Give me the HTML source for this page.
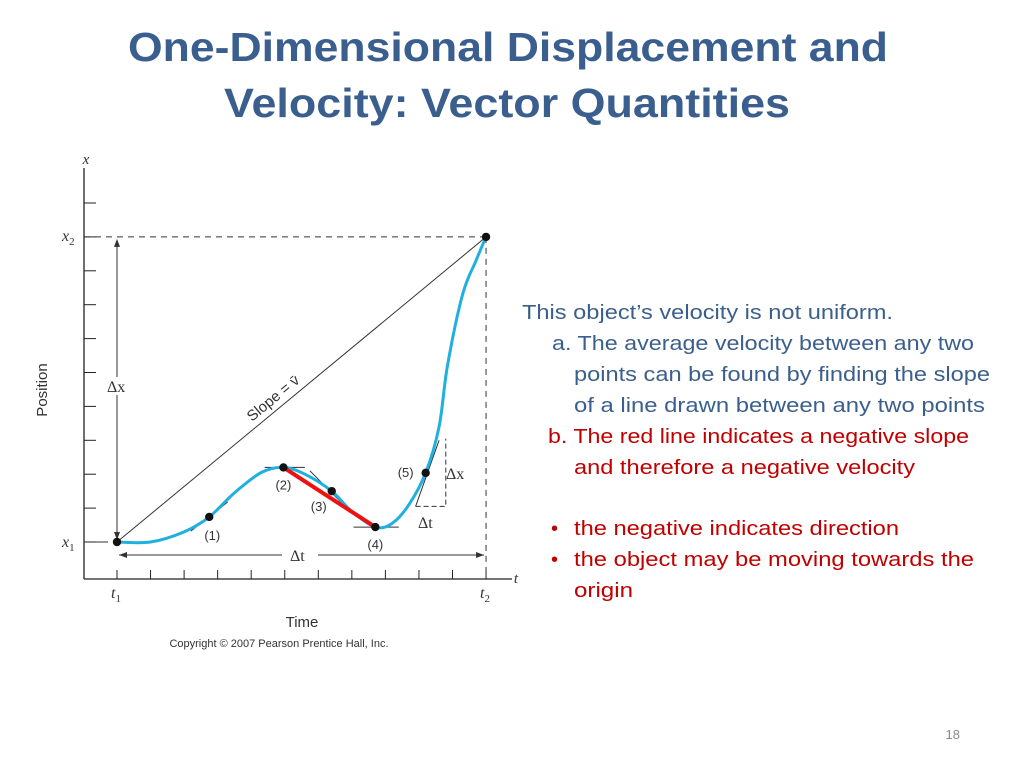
<!DOCTYPE html>
<html><head><meta charset="utf-8"><style>
html,body{margin:0;padding:0;background:#fff;}
svg{display:block;}
</style></head><body>
<svg id="slide" width="1024" height="768" viewBox="0 0 1024 768" xmlns="http://www.w3.org/2000/svg">
<g font-family="Liberation Sans, sans-serif" font-weight="bold" font-size="41" fill="#3a5f8e" text-anchor="middle">
<text x="508" y="61" textLength="760" lengthAdjust="spacingAndGlyphs">One-Dimensional Displacement and</text>
<text x="507" y="117" textLength="566" lengthAdjust="spacingAndGlyphs">Velocity: Vector Quantities</text>
</g>
<g font-family="Liberation Sans, sans-serif" font-size="20">
<text x="522" y="319" fill="#3b5f8c" textLength="371" lengthAdjust="spacingAndGlyphs">This object’s velocity is not uniform.</text>
<text x="552" y="350" fill="#3b5f8c" textLength="422" lengthAdjust="spacingAndGlyphs">a. The average velocity between any two</text>
<text x="574" y="381" fill="#3b5f8c" textLength="416" lengthAdjust="spacingAndGlyphs">points can be found by finding the slope</text>
<text x="574" y="412" fill="#3b5f8c" textLength="411" lengthAdjust="spacingAndGlyphs">of a line drawn between any two points</text>
<text x="548" y="443" fill="#c00000" textLength="421" lengthAdjust="spacingAndGlyphs">b. The red line indicates a negative slope</text>
<text x="574" y="474" fill="#c00000" textLength="341" lengthAdjust="spacingAndGlyphs">and therefore a negative velocity</text>
<text x="551" y="535" fill="#c00000">•</text>
<text x="574" y="535" fill="#c00000" textLength="325" lengthAdjust="spacingAndGlyphs">the negative indicates direction</text>
<text x="551" y="566" fill="#c00000">•</text>
<text x="574" y="566" fill="#c00000" textLength="400" lengthAdjust="spacingAndGlyphs">the object may be moving towards the</text>
<text x="574" y="597" fill="#c00000" textLength="59" lengthAdjust="spacingAndGlyphs">origin</text>
</g>
<text x="960" y="739" font-family="Liberation Sans, sans-serif" font-size="13" fill="#8a8a8a" text-anchor="end">18</text>
<g id="chart"></g>
</svg>
<script>
const tValues = [0, 1, 2, 2.75, 3.5, 4.3, 4.96, 5.6, 6.4, 7.0, 7.7, 8.2, 8.7, 9.2, 9.6, 9.85, 10.3, 10.7, 11];
const xValues = [0, 0, 0.3, 0.74, 1.45, 2.05, 2.2, 2.0, 1.5, 0.9, 0.44, 0.55, 1.1, 2.04, 3.4, 5.2, 7.3, 8.3, 9];
const markedT = [2.75, 4.96, 6.4, 7.7, 9.2];
const markedX = [0.74, 2.2, 1.5, 0.44, 2.04];
const markLabels = ["(1)", "(2)", "(3)", "(4)", "(5)"];
const endT = [0, 11];
const endX = [0, 9];

const NS = "http://www.w3.org/2000/svg";
const g = document.getElementById('chart');
const sx = t => 117 + t * 33.55;
const sy = x => 542 - x * 33.9;
function mk(tag, attrs, parent) {
  const e = document.createElementNS(NS, tag);
  for (const k in attrs) e.setAttribute(k, attrs[k]);
  (parent || g).appendChild(e);
  return e;
}
const F = "Liberation Sans, sans-serif";
const FS = "Liberation Serif, serif";

let e = mk('line', {x1: 84, y1: 168, x2: 84, y2: 579, stroke: '#222', 'stroke-width': 1.3});


e = mk('line', {x1: 84, y1: 579, x2: 512, y2: 579, stroke: '#222', 'stroke-width': 1.3});


for (let i = 0; i <= 10; i++) {
  const y = sy(i);
  e = mk('line', {x1: 84, y1: y, x2: 96, y2: y, stroke: '#222', 'stroke-width': 1});
  
  
}
for (let i = 0; i <= 11; i++) {
  const x = sx(i);
  e = mk('line', {x1: x, y1: 570, x2: x, y2: 579, stroke: '#222', 'stroke-width': 1});
  
  
}
e = mk('line', {x1: 84, y1: sy(9), x2: sx(11), y2: sy(9), stroke: '#333', 'stroke-width': 1, 'stroke-dasharray': '6,5'});


e = mk('line', {x1: sx(11), y1: sy(9), x2: sx(11), y2: 579, stroke: '#333', 'stroke-width': 1, 'stroke-dasharray': '6,5'});


e = mk('line', {x1: 96, y1: sy(0), x2: 108, y2: sy(0), stroke: '#333', 'stroke-width': 1});


e = mk('line', {x1: sx(0), y1: sy(9) + 4, x2: sx(0), y2: sy(0) - 4, stroke: '#333', 'stroke-width': 1});


e = mk('path', {d: `M${sx(0)-3},${sy(9)+10} L${sx(0)},${sy(9)+2} L${sx(0)+3},${sy(9)+10} Z M${sx(0)-3},${sy(0)-10} L${sx(0)},${sy(0)-2} L${sx(0)+3},${sy(0)-10} Z`, fill: '#333'});


e = mk('rect', {x: 104, y: 377, width: 26, height: 18, fill: '#fff'});
e = mk('text', {x: 107, y: 392, 'font-family': FS, 'font-size': 16, fill: '#333'}); e.textContent = 'Δx';


const aty = 555;
e = mk('line', {x1: sx(0) + 2, y1: aty, x2: 282, y2: aty, stroke: '#333', 'stroke-width': 1});


e = mk('line', {x1: 318, y1: aty, x2: sx(11) - 2, y2: aty, stroke: '#333', 'stroke-width': 1});


e = mk('path', {d: `M${sx(0)+10},${aty-3} L${sx(0)+2},${aty} L${sx(0)+10},${aty+3} Z M${sx(11)-10},${aty-3} L${sx(11)-2},${aty} L${sx(11)-10},${aty+3} Z`, fill: '#333'});


e = mk('text', {x: 290, y: 561, 'font-family': FS, 'font-size': 16, fill: '#333'}); e.textContent = 'Δt';


e = mk('line', {x1: sx(endT[0]), y1: sy(endX[0]), x2: sx(endT[1]), y2: sy(endX[1]), stroke: '#333', 'stroke-width': 1});


e = mk('text', {x: 0, y: 0, 'font-family': F, 'font-size': 15, fill: '#333', transform: `translate(252,422) rotate(-39.5)`}); e.textContent = 'Slope = v̄';


const tangents = [[2.2, 0.32, 3.3, 1.18], [4.4, 2.2, 5.6, 2.2], [5.75, 2.1, 6.9, 0.95], [7.05, 0.44, 8.4, 0.44], [8.9, 1.05, 9.6, 3.0]];
tangents.forEach(tg => {
  e = mk('line', {x1: sx(tg[0]), y1: sy(tg[1]), x2: sx(tg[2]), y2: sy(tg[3]), stroke: '#333', 'stroke-width': 1});
  
  
});
e = mk('path', {d: `M${sx(8.9)},${sy(1.05)} L${sx(9.8)},${sy(1.05)} L${sx(9.8)},${sy(3.05)}`, fill: 'none', stroke: '#333', 'stroke-width': 1, 'stroke-dasharray': '5,3'});


e = mk('text', {x: 446, y: 479, 'font-family': FS, 'font-size': 16, fill: '#333'}); e.textContent = 'Δx';


e = mk('text', {x: 418, y: 528, 'font-family': FS, 'font-size': 16, fill: '#333'}); e.textContent = 'Δt';



const P = tValues.map((t, i) => [sx(t), sy(xValues[i])]);
let d = `M${P[0][0]},${P[0][1]}`;
for (let i = 0; i < P.length - 1; i++) {
  const p0 = P[Math.max(0, i - 1)], p1 = P[i], p2 = P[i + 1], p3 = P[Math.min(P.length - 1, i + 2)];
  const c1 = [p1[0] + (p2[0] - p0[0]) / 6, p1[1] + (p2[1] - p0[1]) / 6];
  const c2 = [p2[0] - (p3[0] - p1[0]) / 6, p2[1] - (p3[1] - p1[1]) / 6];
  d += ` C${c1[0]},${c1[1]} ${c2[0]},${c2[1]} ${p2[0]},${p2[1]}`;
}
e = mk('path', {d: d, fill: 'none', stroke: '#1fb0e0', 'stroke-width': 3});


e = mk('line', {x1: sx(markedT[1]), y1: sy(markedX[1]), x2: sx(markedT[3]), y2: sy(markedX[3]), stroke: '#ee1111', 'stroke-width': 4});


const labelOff = [[3, 23], [0, 22], [-13, 20], [0, 22], [-20, 4]];
markedT.forEach((t, i) => {
  e = mk('circle', {cx: sx(t), cy: sy(markedX[i]), r: 4.2, fill: '#111'});
  
  
  e = mk('text', {x: sx(t) + labelOff[i][0], y: sy(markedX[i]) + labelOff[i][1], 'font-family': F, 'font-size': 13, fill: '#333', 'text-anchor': 'middle'});
  e.textContent = markLabels[i];
  
  
});
endT.forEach((t, i) => {
  e = mk('circle', {cx: sx(t), cy: sy(endX[i]), r: 4.2, fill: '#111'});
  
  
});
const labels = [
  ['x', 86, 164, FS, 15, 'italic', 'y-axis-symbol'],
  ['t', 516, 583, FS, 15, 'italic', 't-axis-symbol'],
  ['Time', 302, 627, F, 15, 'normal', 'x-axis-title'],
  ['Copyright © 2007 Pearson Prentice Hall, Inc.', 279, 647, F, 11, 'normal', 'copyright'],
];
labels.forEach(L => {
  e = mk('text', {x: L[1], y: L[2], 'font-family': L[3], 'font-size': L[4], 'font-style': L[5], fill: '#333', 'text-anchor': 'middle'});
  e.textContent = L[0];
  
  
});
e = mk('text', {x: 0, y: 0, 'font-family': F, 'font-size': 15, fill: '#333', 'text-anchor': 'middle', transform: 'translate(47,390) rotate(-90)'}); e.textContent = 'Position';


function subLabel(main, sub, x, y, name) {
  const t = mk('text', {x: x, y: y, 'font-family': FS, 'font-size': 16, 'font-style': 'italic', fill: '#333'});
  
  
  t.appendChild(document.createTextNode(main));
  const s = mk('tspan', {dy: 4, 'font-size': 11, 'font-style': 'normal'}, t);
  s.textContent = sub;
}
subLabel('x', '2', 62, 241, 'x2-label');
subLabel('x', '1', 62, 547, 'x1-label');
subLabel('t', '1', 111, 598, 't1-label');
subLabel('t', '2', 480, 598, 't2-label');
</script>
</body></html>
